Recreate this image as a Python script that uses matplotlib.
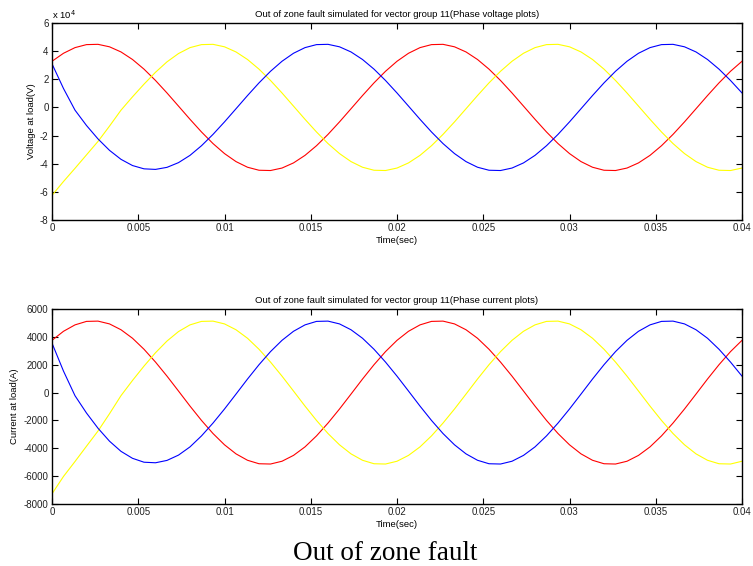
import numpy as np
import matplotlib
matplotlib.use("Agg")
import matplotlib.pyplot as plt

# ---------------- data ----------------
time_s = np.linspace(0, 0.04, 61)

volt_red = [32800, 38490, 42500, 44640, 44840, 43080, 39430, 34070, 27210, 19160,
            10280, 940, -8430, -17440, -25680, -32800, -38490, -42500, -44640, -44840,
            -43080, -39430, -34070, -27210, -19160, -10280, -940, 8430, 17440, 25680,
            32800, 38490, 42500, 44640, 44840, 43080, 39430, 34070, 27210, 19160,
            10280, 940, -8430, -17440, -25680, -32800, -38490, -42500, -44640, -44840,
            -43080, -39430, -34070, -27210, -19160, -10280, -940, 8430, 17440, 25680,
            32800]
volt_yellow = [-62500, -52630, -43270, -33710, -24160, -13280, -1940, 7530, 16540, 24980,
               32400, 38290, 42500, 44640, 44840, 43080, 39430, 34070, 27210, 19160,
               10280, 940, -8430, -17440, -25680, -32800, -38490, -42500, -44640, -44840,
               -43080, -39430, -34070, -27210, -19160, -10280, -940, 8430, 17440, 25680,
               32800, 38490, 42500, 44640, 44840, 43080, 39430, 34070, 27210, 19160,
               10280, 940, -8430, -17440, -25680, -32800, -38490, -42500, -44640, -44840,
               -43080]
volt_blue = [31000, 13440, -1930, -12840, -22380, -30500, -36890, -41300, -43640, -44040,
             -42580, -39230, -34070, -27210, -19160, -10280, -940, 8430, 17440, 25680,
             32800, 38490, 42500, 44640, 44840, 43080, 39430, 34070, 27210, 19160,
             10280, 940, -8430, -17440, -25680, -32800, -38490, -42500, -44640, -44840,
             -43080, -39430, -34070, -27210, -19160, -10280, -940, 8430, 17440, 25680,
             32800, 38490, 42500, 44640, 44840, 43080, 39430, 34070, 27210, 19160,
             10280]

curr_red = [3750, 4400, 4860, 5110, 5130, 4930, 4510, 3900, 3110, 2190,
            1180, 110, -970, -2000, -2940, -3750, -4400, -4860, -5110, -5130,
            -4930, -4510, -3900, -3110, -2190, -1180, -110, 970, 2000, 2940,
            3750, 4400, 4860, 5110, 5130, 4930, 4510, 3900, 3110, 2190,
            1180, 110, -970, -2000, -2940, -3750, -4400, -4860, -5110, -5130,
            -4930, -4510, -3900, -3110, -2190, -1180, -110, 970, 2000, 2940,
            3750]
curr_yellow = [-7270, -6020, -4950, -3850, -2760, -1520, -220, 870, 1900, 2860,
               3700, 4380, 4860, 5110, 5130, 4930, 4510, 3900, 3110, 2190,
               1180, 110, -970, -2000, -2940, -3750, -4400, -4860, -5110, -5130,
               -4930, -4510, -3900, -3110, -2190, -1180, -110, 970, 2000, 2940,
               3750, 4400, 4860, 5110, 5130, 4930, 4510, 3900, 3110, 2190,
               1180, 110, -970, -2000, -2940, -3750, -4400, -4860, -5110, -5130,
               -4930]
curr_blue = [3550, 1540, -225, -1470, -2560, -3490, -4220, -4720, -5000, -5040,
             -4870, -4490, -3900, -3110, -2190, -1180, -110, 970, 2000, 2940,
             3750, 4400, 4860, 5110, 5130, 4930, 4510, 3900, 3110, 2190,
             1180, 110, -970, -2000, -2940, -3750, -4400, -4860, -5110, -5130,
             -4930, -4510, -3900, -3110, -2190, -1180, -110, 970, 2000, 2940,
             3750, 4400, 4860, 5110, 5130, 4930, 4510, 3900, 3110, 2190,
             1180]

x_ticks = [0, 0.005, 0.01, 0.015, 0.02, 0.025, 0.03, 0.035, 0.04]
x_tick_labels = ["0", "0.005", "0.01", "0.015", "0.02", "0.025", "0.03", "0.035", "0.04"]
v_ticks = [-80000, -60000, -40000, -20000, 0, 20000, 40000, 60000]
v_tick_labels = ["-8", "-6", "-4", "-2", "0", "2", "4", "6"]
i_ticks = [-8000, -6000, -4000, -2000, 0, 2000, 4000, 6000]
i_tick_labels = ["-8000", "-6000", "-4000", "-2000", "0", "2000", "4000", "6000"]

title_v = "Out of zone fault simulated for vector group 11(Phase voltage plots)"
title_i = "Out of zone fault simulated for vector group 11(Phase current plots)"
caption = "Out of zone fault"

# ---------------- figure ----------------
W, H = 753, 566
fig = plt.figure(figsize=(W / 100, H / 100), dpi=100)
fig.patch.set_facecolor("white")

sans = "Liberation Sans"
fs_tick = 7
fs = 6.8


def frac(px_left, px_top, px_right, px_bottom):
    return [px_left / W, 1 - px_bottom / H, (px_right - px_left) / W, (px_bottom - px_top) / H]


def style(ax, yticks, ylabels, ylim):
    ax.set_xlim(0, 0.04)
    ax.set_ylim(*ylim)
    ax.set_xticks(x_ticks)
    ax.set_xticklabels(x_tick_labels, fontfamily=sans, fontsize=fs_tick, color="#222222")
    ax.set_yticks(yticks)
    ax.set_yticklabels(ylabels, fontfamily=sans, fontsize=fs_tick, color="#222222")
    ax.tick_params(direction="in", length=4, width=0.8, top=True, right=True,
                   pad=2.5, colors="black", labelcolor="#222222")
    for sp in ax.spines.values():
        sp.set_linewidth(1.0)
        sp.set_color("black")


lw = 0.8

ax1 = fig.add_axes(frac(52, 23, 742, 220))
ax1.plot(time_s, volt_red, color="#ff0000", lw=lw)
ax1.plot(time_s, volt_yellow, color="#ffff00", lw=lw)
ax1.plot(time_s, volt_blue, color="#0000ff", lw=lw)
style(ax1, v_ticks, v_tick_labels, (-80000, 60000))
ax1.set_title(title_v, fontfamily=sans, fontsize=fs, pad=4)
ax1.set_xlabel("Time(sec)", fontfamily=sans, fontsize=fs, labelpad=1.5)
ax1.set_ylabel("Voltage at load(V)", fontfamily=sans, fontsize=fs, labelpad=3)
ax1.text(0.0, 1.012, r"x 10$^{4}$", transform=ax1.transAxes, fontfamily=sans,
         fontsize=fs, ha="left", va="bottom")

ax2 = fig.add_axes(frac(52, 309, 742, 504))
ax2.plot(time_s, curr_red, color="#ff0000", lw=lw)
ax2.plot(time_s, curr_yellow, color="#ffff00", lw=lw)
ax2.plot(time_s, curr_blue, color="#0000ff", lw=lw)
style(ax2, i_ticks, i_tick_labels, (-8000, 6000))
ax2.set_title(title_i, fontfamily=sans, fontsize=fs, pad=4)
ax2.set_xlabel("Time(sec)", fontfamily=sans, fontsize=fs, labelpad=1.5)
ax2.set_ylabel("Current at load(A)", fontfamily=sans, fontsize=fs, labelpad=3)

fig.text(293 / W, 1 - 560 / H, caption, fontfamily="Liberation Serif", fontsize=19.5,
         ha="left", va="baseline")

fig.savefig("out.png", dpi=100, facecolor="white")
